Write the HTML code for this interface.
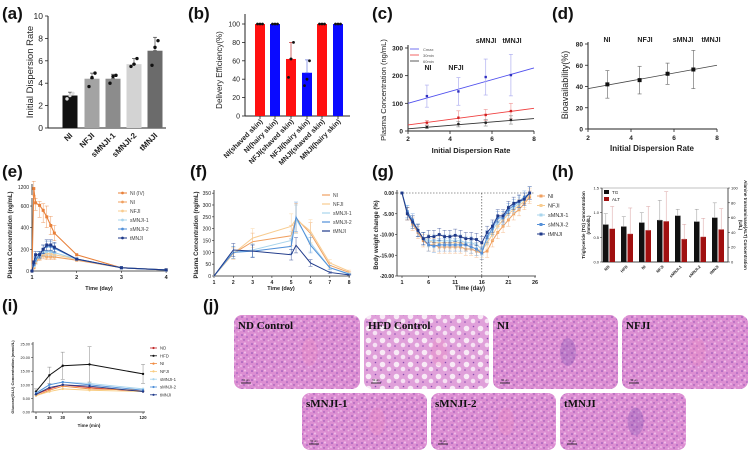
<!DOCTYPE html>
<html><head><meta charset="utf-8"><style>
html,body{margin:0;padding:0;background:#fff;}
svg{display:block;font-family:"Liberation Sans",Arial,sans-serif;}
</style></head><body>
<svg id="fig" width="750" height="451" viewBox="0 0 750 451" xmlns="http://www.w3.org/2000/svg">
<defs>
<pattern id="liver" width="10" height="9" patternUnits="userSpaceOnUse">
<rect width="10" height="9" fill="#dc8ed2"/>
<circle cx="2" cy="2" r="0.8" fill="#8a4cb0"/><circle cx="7" cy="4" r="0.8" fill="#9458bc"/>
<circle cx="4" cy="7" r="0.7" fill="#8a4cb0"/>
<circle cx="5" cy="1.5" r="1.1" fill="#eebce8"/><circle cx="1" cy="6" r="1" fill="#ecb6e6"/><circle cx="8.5" cy="7.5" r="0.9" fill="#eebce8"/>
</pattern>
<pattern id="fatty" width="14" height="12" patternUnits="userSpaceOnUse">
<rect width="14" height="12" fill="#e0a0da"/>
<circle cx="4.5" cy="4.5" r="2.8" fill="#f8eaf6"/><circle cx="11" cy="9" r="2.3" fill="#f6e2f4"/>
<circle cx="11.5" cy="2.5" r="0.8" fill="#8a4cb0"/><circle cx="3" cy="10" r="0.8" fill="#8a4cb0"/>
</pattern>
</defs>
</svg>
<script>
// ---------- data ----------
const aCats=['NI','NFJI','sMNJI-1','sMNJI-2','tMNJI'];
const aVals=[2.9,4.4,4.4,5.7,6.9];
const aErr=[0.3,0.5,0.4,0.5,1.2];
const aPts=[[2.6,2.9,3.1],[3.7,4.5,4.9],[4.0,4.6,4.7],[5.5,5.7,6.2],[5.6,7.2,7.8]];
const aTicks=[0,2,4,6,8,10];
const bCats=['NI(shaved skin)','NI(hairy skin)','NFJI(shaved skin)','NFJI(hairy skin)','MNJI(shaved skin)','MNJI(hairy skin)'];
const bVals=[100,100,62,47,100,100];
const bErr=[0,0,18,14,0,0];
const bPts=[[100,100,100],[100,100,100],[42,62,80],[33,40,60],[100,100,100],[100,100,100]];
const bTicks=[0,20,40,60,80,100];
const cX=[2.9,4.4,5.7,6.9];
const cCmax=[126,143,195,202];const cCmaxErr=[40,50,65,75];
const c30=[30,48,58,72];const c30Err=[8,25,20,28];
const c60=[14,25,30,40];const c60Err=[5,10,12,15];
const cFitCmax=[100,228];const cFit30=[22,82];const cFit60=[8,45];
const cYTicks=[0,100,200,300];const dispTicks=[2,4,6,8];
const dVals=[42,46,52,56];const dErr=[13,13,10,18];const dFit=[38,60];const dYTicks=[0,20,40,60,80];
const groupLabels=['NI','NFJI','sMNJI','tMNJI'];
const eT=[1,1.04,1.08,1.17,1.25,1.33,1.42,1.5,2,3,4];
const eNames=['NI (IV)','NI','NFJI','sMNJI-1','sMNJI-2','tMNJI'];
const eNIIV=[0,1150,700,620,560,500,420,350,150,30,10];
const eNI=[0,30,80,120,140,130,130,130,100,30,10];
const eNFJI=[0,40,90,130,160,160,160,150,110,30,10];
const eS1=[0,50,100,140,170,180,180,170,110,30,10];
const eS2=[0,60,110,150,200,230,230,210,110,30,10];
const eTM=[0,80,150,150,200,240,240,220,110,30,10];
const eYTicks=[0,200,400,600];const eXTicks=[1,2,3,4];
const fT=[1,2,3,5,5.25,6,7,8];
const fNames=['NI','NFJI','sMNJI-1','sMNJI-2','tMNJI'];
const fNI=[0,95,145,170,245,180,45,15];
const fNFJI=[0,95,160,210,240,190,55,20];
const fS1=[0,100,110,150,240,140,35,10];
const fS2=[0,100,105,125,250,130,35,8];
const fTM=[0,110,105,90,130,55,15,5];
const fYTicks=[0,50,100,150,200,250,300,350];const fXTicks=[1,2,3,4,5,6,7,8];
const gDays=[1,2,3,4,5,6,7,8,9,10,11,12,13,14,15,16,17,18,19,20,21,22,23,24,25];
const gNI=[0,-5,-7.5,-9.5,-11.5,-12.5,-12.5,-13,-13,-13,-13,-13,-13.5,-13.5,-14,-14.5,-14,-11.5,-9.5,-8,-6.5,-5,-4,-2.5,-1];
const gNFJI=[0,-5,-7,-9,-11,-11.5,-12,-12,-12,-12,-12,-12,-12.5,-13,-13.5,-14,-12,-10,-8,-6.5,-5,-4,-3,-2,-0.5];
const gS1=[0,-4.5,-7,-9,-11,-11.5,-11.5,-11.5,-11.5,-11.5,-11.5,-11.5,-12,-12,-12.5,-13.5,-11,-9,-7,-6,-4.5,-3.5,-2.5,-1.5,0];
const gS2=[0,-4.5,-6.5,-9,-11,-12.5,-12.8,-12.5,-12.5,-12.5,-12.5,-12.5,-12.5,-13,-13.5,-14.5,-10.5,-8.5,-6,-6,-4,-3,-2,-1,0];
const gTM=[0,-5,-7,-9,-11,-10.5,-10.5,-10,-10.5,-10.5,-10.2,-10.5,-11,-11,-11.2,-12,-9.5,-8,-5.5,-5.5,-3.5,-2.5,-2,-1.5,0];
const gYTicks=[0,-5,-10,-15,-20];const gXTicks=[1,6,11,16,21,26];
const hCats=['ND','HFD','NI','NFJI','sMNJI-1','sMNJI-2','tMNJI'];
const hTG=[0.76,0.72,0.80,0.85,0.94,0.82,0.90];const hTGErr=[0.22,0.2,0.2,0.4,0.13,0.25,0.3];
const hALT=[45,38,43,55,31,34,44];const hALTErr=[30,35,32,40,20,25,28];
const hLTicks=[0,0.5,1.0,1.5];const hRTicks=[0,20,40,60,80,100];
const iT=[0,15,30,60,120];
const iNames=['ND','HFD','NI','NFJI','sMNJI-1','sMNJI-2','tMNJI'];
const iND=[6.5,8.5,10,9,7.5];const iHFD=[7.5,13.5,17,17.5,14];const iNI=[6,8,9.5,8.5,8];
const iNFJI=[6,7.5,8.5,8,7.5];const iS1=[6.5,10,11,10.5,8.5];const iS2=[7,10,11,10,8];const iTM=[6.5,9,10,9.5,7.5];
const iHFDErr=[1,3,5,6.5,3.5];
const iYTicks=[0,5,10,15,20,25];
const jNames=['ND Control','HFD Control','NI','NFJI','sMNJI-1','sMNJI-2','tMNJI'];

// ---------- helpers ----------
const S=document.getElementById('fig');const NS='http://www.w3.org/2000/svg';
function mk(tag,attrs,name){const el=document.createElementNS(NS,tag);for(const k in attrs)el.setAttribute(k,attrs[k]);


S.appendChild(el);return el;}
function L(x1,y1,x2,y2,c,w,name,dash){const a={x1,y1,x2,y2,stroke:c,'stroke-width':w};if(dash)a['stroke-dasharray']=dash;return mk('line',a,name);}
function T(x,y,s,size,name,o){o=o||{};const a={x,y,'font-size':size,fill:o.fill||'#222','text-anchor':o.anchor||'start'};
if(o.bold)a['font-weight']='bold';if(o.rot!==undefined)a.transform=`rotate(${o.rot} ${x} ${y})`;if(o.family)a['font-family']=o.family;
const t=mk('text',a,name);t.textContent=s;return t;}
function P(pts,c,w,name){return mk('polyline',{points:pts.map(p=>p.join(',')).join(' '),fill:'none',stroke:c,'stroke-width':w},name);}
function err(x,y1,y2,c,w,name){L(x,y1,x,y2,c,w||0.6,name);L(x-2,y1,x+2,y1,c,w||0.6,name+'-cap');L(x-2,y2,x+2,y2,c,w||0.6,name+'-cap');}

// panel labels
[['(a)',2,19],['(b)',188,19],['(c)',372,19],['(d)',552,19],['(e)',2,177],['(f)',190,177],['(g)',372,177],['(h)',552,177],['(i)',2,311],['(j)',203,311]].forEach(p=>T(p[1],p[2],p[0],17,'panel-label-'+p[0].replace(/[()]/g,''),{bold:true,fill:'#111'}));

// ---------- (a) ----------
{const ya=v=>128-v*11.2;const cx=[70,92,113,134,155];const cols=['#111','#a3a3a3','#8c8c8c','#d3d3d3','#6b6b6b'];
L(48,ya(10),48,128,'#222',1,'a-y-axis');L(48,128,166,128,'#222',1,'a-x-axis');
aTicks.forEach(t=>{L(45,ya(t),48,ya(t),'#222',0.8,'a-y-tick');T(43,ya(t)+3,String(t),8.5,'a-y-tick-label',{anchor:'end'});});
aVals.forEach((v,i)=>{mk('rect',{x:cx[i]-7.5,y:ya(v),width:15,height:128-ya(v),fill:cols[i]},'a-bar-'+aCats[i]);
err(cx[i],ya(v),ya(v+aErr[i]),'#444',0.7,'a-error-bar');
aPts[i].forEach((p,k)=>mk('circle',{cx:cx[i]+(k-1)*3,cy:ya(p),r:1.7,fill:i==0?'#ddd':'#111'},'a-point'));
T(cx[i]+3,136,aCats[i],8,'a-x-label',{anchor:'end',rot:-45,bold:true});});
T(33,72,'Initial Dispersion Rate',9.5,'a-y-axis-title',{anchor:'middle',rot:-90});}

// ---------- (b) ----------
{const yb=v=>116-v*0.92;const cx=[260,275,291,307,322,338];
L(245,14,245,116,'#222',1,'b-y-axis');L(245,116,350,116,'#222',1,'b-x-axis');
bTicks.forEach(t=>{L(242,yb(t),245,yb(t),'#222',0.8,'b-y-tick');T(240,yb(t)+2.5,String(t),7,'b-y-tick-label',{anchor:'end'});});
bVals.forEach((v,i)=>{const c=i%2?'#0a0aff':'#ff1010';mk('rect',{x:cx[i]-5,y:yb(v),width:10,height:116-yb(v),fill:c},'b-bar');
if(bErr[i])err(cx[i],yb(v),yb(v+bErr[i]),i%2?'#6a7ae0':'#c03030',0.7,'b-error-bar');
bPts[i].forEach((p,k)=>mk('circle',{cx:cx[i]+(k-1)*2.5,cy:yb(p),r:1.4,fill:'#111'},'b-point'));
L(cx[i],116,cx[i],119,'#222',0.8,'b-x-tick');
T(cx[i]+3,122,bCats[i],7,'b-x-label',{anchor:'end',rot:-45,bold:true});});
T(222,70,'Delivery Efficiency(%)',8,'b-y-axis-title',{anchor:'middle',rot:-90});}

// ---------- (c) ----------
{const xc=v=>408+(v-2)*21;const yc=v=>131-v*0.2767;
L(408,45,408,131,'#222',1,'c-y-axis');L(408,131,534,131,'#222',1,'c-x-axis');
cYTicks.forEach(t=>{L(405,yc(t),408,yc(t),'#222',0.8,'c-y-tick');T(403,yc(t)+2.5,String(t),6.5,'c-y-tick-label',{anchor:'end',bold:true});});
dispTicks.forEach(t=>{L(xc(t),131,xc(t),134,'#222',0.8,'c-x-tick');T(xc(t),141,String(t),6.5,'c-x-tick-label',{anchor:'middle',bold:true});});
[[cFitCmax,'#5050ee',cCmax,cCmaxErr,'#3030c0','#b0b0f0'],[cFit30,'#f04040',c30,c30Err,'#d02020','#f0a0a0'],[cFit60,'#333',c60,c60Err,'#222','#999']].forEach((s,si)=>{
L(xc(2),yc(s[0][0]),xc(8),yc(s[0][1]),s[1],0.9,'c-fit-line');
s[2].forEach((v,i)=>{err(xc(cX[i]),yc(v-s[3][i]),yc(v+s[3][i]),s[5],0.7,'c-error-bar');mk('rect',{x:xc(cX[i])-1.2,y:yc(v)-1.2,width:2.4,height:2.4,fill:s[4]},'c-point');});});
[['Cmax','#5050ee'],['30min','#f04040'],['60min','#333']].forEach((l,i)=>{L(410,49+i*6,419,49+i*6,l[1],0.8,'c-legend-line');T(423,51+i*6,l[0],4,'c-legend-text',{fill:'#555'});});
[[428,70],[456,70],[486,43],[512,43]].forEach((p,i)=>T(p[0],p[1],groupLabels[i],7,'c-group-label',{anchor:'middle',bold:true}));
T(471,153,'Initial Dispersion Rate',7.5,'c-x-axis-title',{anchor:'middle',bold:true});
T(386,90,'Plasma Concentration (ng/mL)',7.5,'c-y-axis-title',{anchor:'middle',rot:-90});}

// ---------- (d) ----------
{const xd=v=>588+(v-2)*21.5;const yd=v=>129-v*1.0625;
L(588,42,588,129,'#222',1,'d-y-axis');L(588,129,717,129,'#222',1,'d-x-axis');
dYTicks.forEach(t=>{L(585,yd(t),588,yd(t),'#222',0.8,'d-y-tick');T(583,yd(t)+2.5,String(t),6.5,'d-y-tick-label',{anchor:'end',bold:true});});
dispTicks.forEach(t=>{L(xd(t),129,xd(t),132,'#222',0.8,'d-x-tick');T(xd(t),140,String(t),6.5,'d-x-tick-label',{anchor:'middle',bold:true});});
L(xd(2),yd(dFit[0]),xd(8),yd(dFit[1]),'#444',0.8,'d-fit-line');
dVals.forEach((v,i)=>{err(xd(cX[i]),yd(v-dErr[i]),yd(v+dErr[i]),'#777',0.7,'d-error-bar');mk('rect',{x:xd(cX[i])-2,y:yd(v)-2,width:4,height:4,fill:'#111'},'d-point');});
[607,645,683,711].forEach((x,i)=>T(x,42,groupLabels[i],7,'d-group-label',{anchor:'middle',bold:true}));
T(652,151,'Initial Dispersion Rate',8,'d-x-axis-title',{anchor:'middle',bold:true});
T(568,85,'Bioavailability(%)',9,'d-y-axis-title',{anchor:'middle',rot:-90});}

// ---------- (e) ----------
{const xe=v=>32+(v-1)*44.7;const ye=v=>v<=600?271-v*0.1083:206-(v-600)*0.0317;
L(32,184,32,271,'#222',0.8,'e-y-axis');L(32,271,168,271,'#222',0.8,'e-x-axis');
mk('rect',{x:29,y:195,width:6,height:3,fill:'#fff'},'e-axis-break');
eYTicks.forEach(t=>{L(30,ye(t),32,ye(t),'#222',0.6,'e-y-tick');T(29,ye(t)+2,String(t),5,'e-y-tick-label',{anchor:'end'});});
T(29,189,'1200',5,'e-y-tick-label',{anchor:'end'});
eXTicks.forEach(t=>{L(xe(t),271,xe(t),273,'#222',0.6,'e-x-tick');T(xe(t),279,String(t),5.5,'e-x-tick-label',{anchor:'middle',bold:true});});
const cols=['#e8803a','#f0a060','#f8cc90','#a8d4ec','#4f8fd8','#1f3a8a'];
[eNIIV,eNI,eNFJI,eS1,eS2,eTM].forEach((s,si)=>{P(eT.map((t,i)=>[xe(t),ye(s[i])]),cols[si],1.1,'e-line-'+eNames[si]);
s.forEach((v,i)=>{if(i>0&&i<8)err(xe(eT[i]),ye(v*0.8),ye(v*1.2),cols[si],0.4,'e-error-bar');mk('rect',{x:xe(eT[i])-1.5,y:ye(v)-1.5,width:3,height:3,fill:cols[si]},'e-point');});});
eNames.forEach((n,i)=>{const y=193+i*9;L(118,y,127,y,cols[i],1,'e-legend-line');mk('circle',{cx:122.5,cy:y,r:1.4,fill:cols[i]},'e-legend-marker');T(130,y+2,n,5,'e-legend-text',{fill:'#444'});});
T(99,290,'Time (day)',5.5,'e-x-axis-title',{anchor:'middle',bold:true});
T(12,235,'Plasma Concentration (ng/mL)',6,'e-y-axis-title',{anchor:'middle',rot:-90,bold:true});}

// ---------- (f) ----------
{const xf=v=>214+(v-1)*19.3;const yf=v=>276-v*0.2367;
L(214,190,214,276,'#222',0.8,'f-y-axis');L(214,276,350,276,'#222',0.8,'f-x-axis');
fYTicks.forEach(t=>{L(212,yf(t),214,yf(t),'#222',0.6,'f-y-tick');T(211,yf(t)+2,String(t),5,'f-y-tick-label',{anchor:'end'});});
fXTicks.forEach(t=>{L(xf(t),276,xf(t),278,'#222',0.6,'f-x-tick');T(xf(t),284,String(t),5,'f-x-tick-label',{anchor:'middle',bold:true});});
const cols=['#f0a060','#f8cc90','#a8d4ec','#4f8fd8','#1f3a8a'];
[fNI,fNFJI,fS1,fS2,fTM].forEach((s,si)=>{P(fT.map((t,i)=>[xf(t),yf(s[i])]),cols[si],1,'f-line-'+fNames[si]);
s.forEach((v,i)=>{if(i>0)err(xf(fT[i]),yf(v*0.75),yf(v*1.25),cols[si],0.4,'f-error-bar');});});
fNames.forEach((n,i)=>{const y=195+i*9;L(322,y,330,y,cols[i],1.2,'f-legend-line');T(333,y+2,n,5,'f-legend-text',{fill:'#444'});});
T(281,290,'Time (day)',5.5,'f-x-axis-title',{anchor:'middle',bold:true});
T(198,235,'Plasma Concentration (ng/mL)',6,'f-y-axis-title',{anchor:'middle',rot:-90,bold:true});}

// ---------- (g) ----------
{const xg=d=>402+(d-1)*5.32;const yg=v=>193-v*4.15;
L(397,190,397,276,'#222',0.8,'g-y-axis');L(397,276,536,276,'#222',0.8,'g-x-axis');
L(397,193,535,193,'#333',0.6,'g-zero-line','1.5,1.5');L(xg(16),193,xg(16),276,'#333',0.6,'g-day16-line','1.5,1.5');
gYTicks.forEach(t=>{L(395,yg(t),397,yg(t),'#222',0.6,'g-y-tick');T(394,yg(t)+2,(t===0?'0':t)+'.00',5,'g-y-tick-label',{anchor:'end',bold:true});});
gXTicks.forEach(t=>{L(xg(t),276,xg(t),278,'#222',0.6,'g-x-tick');T(xg(t),284,String(t),5.5,'g-x-tick-label',{anchor:'middle',bold:true});});
const cols=['#f0a060','#f8cc90','#a8d4ec','#5590d8','#1f3a8a'];
[gNI,gNFJI,gS1,gS2,gTM].forEach((s,si)=>{P(gDays.map((d,i)=>[xg(d),yg(s[i])]),cols[si],1,'g-line-'+fNames[si]);
s.forEach((v,i)=>{if(i>0)err(xg(gDays[i]),yg(v-1.5),yg(v+1.5),cols[si],0.35,'g-error-bar');mk('rect',{x:xg(gDays[i])-1.4,y:yg(v)-1.4,width:2.8,height:2.8,fill:cols[si]},'g-point');});});
fNames.forEach((n,i)=>{const y=196+i*9.5;L(537,y,545,y,cols[i],1,'g-legend-line');mk('rect',{x:539.5,y:y-1.5,width:3,height:3,fill:cols[i]},'g-legend-marker');T(548,y+2,n,5.5,'g-legend-text',{fill:'#333'});});
T(470,290,'Time (day)',6,'g-x-axis-title',{anchor:'middle',bold:true});
T(378,235,'Body weight change (%)',6,'g-y-axis-title',{anchor:'middle',rot:-90,bold:true});}

// ---------- (h) ----------
{const yl=v=>262-v*49.3;const yr=v=>262-v*0.74;const cx=[609,627,645,663,681,700,718];
mk('rect',{x:602,y:188,width:126,height:74,fill:'none',stroke:'#999','stroke-width':0.6},'h-plot-frame');
L(602,188,602,262,'#222',0.7,'h-left-axis');L(728,188,728,262,'#222',0.7,'h-right-axis');L(602,262,728,262,'#222',0.7,'h-x-axis');
hLTicks.forEach(t=>{L(600,yl(t),602,yl(t),'#222',0.5,'h-left-tick');T(599,yl(t)+1.5,t.toFixed(1),4,'h-left-tick-label',{anchor:'end'});});
hRTicks.forEach(t=>{L(728,yr(t),730,yr(t),'#222',0.5,'h-right-tick');T(731,yr(t)+1.5,String(t),4,'h-right-tick-label');});
hCats.forEach((c,i)=>{mk('rect',{x:cx[i]-6,y:yl(hTG[i]),width:5.5,height:262-yl(hTG[i]),fill:'#111'},'h-bar-tg');
err(cx[i]-3.2,yl(hTG[i]),yl(hTG[i]+hTGErr[i]),'#999',0.5,'h-error-tg');
mk('rect',{x:cx[i]+0.5,y:yr(hALT[i]),width:5.5,height:262-yr(hALT[i]),fill:'#a01010'},'h-bar-alt');
err(cx[i]+3.2,yr(hALT[i]),yr(hALT[i]+hALTErr[i]),'#d8a0a0',0.5,'h-error-alt');
T(cx[i]+1,267,c,4,'h-x-label',{anchor:'end',rot:-45,bold:true});});
mk('rect',{x:604,y:190,width:5,height:4,fill:'#111'},'h-legend-tg-swatch');T(612,194,'TG',4.5,'h-legend-tg');
mk('rect',{x:604,y:197,width:5,height:4,fill:'#a01010'},'h-legend-alt-swatch');T(612,201,'ALT',4.5,'h-legend-alt');
T(585,225,'Triglyceride (TG) Concentration',4.5,'h-left-axis-title',{anchor:'middle',rot:-90,bold:true});
T(590,225,'(mmol/L)',4.5,'h-left-axis-title-unit',{anchor:'middle',rot:-90,bold:true});
T(744,225,'Alanine transaminase(ALT) Concentration',4.5,'h-right-axis-title',{anchor:'middle',rot:90,bold:true});
T(739,225,'(U/L)',4.5,'h-right-axis-title-unit',{anchor:'middle',rot:90,bold:true});}

// ---------- (i) ----------
{const xi=t=>36+t*0.892;const yi=v=>412-v*2.72;
L(33,342,33,412,'#222',0.7,'i-y-axis');L(33,412,145,412,'#222',0.7,'i-x-axis');
iYTicks.forEach(t=>{L(31,yi(t),33,yi(t),'#222',0.5,'i-y-tick');T(30,yi(t)+1.5,t.toFixed(2),3.8,'i-y-tick-label',{anchor:'end'});});
iT.forEach(t=>{L(xi(t),412,xi(t),414,'#222',0.5,'i-x-tick');T(xi(t),419,String(t),4.2,'i-x-tick-label',{anchor:'middle',bold:true});});
const cols=['#c0282a','#111','#f08a40','#f8cc80','#a8d4ec','#4f8fd8','#1f3a8a'];
iHFD.forEach((v,i)=>err(xi(iT[i]),yi(v-iHFDErr[i]),yi(v+iHFDErr[i]),'#888',0.5,'i-error-hfd'));
[iND,iHFD,iNI,iNFJI,iS1,iS2,iTM].forEach((s,si)=>{P(iT.map((t,i)=>[xi(t),yi(s[i])]),cols[si],si==1?1:0.9,'i-line-'+iNames[si]);
s.forEach((v,i)=>mk('circle',{cx:xi(iT[i]),cy:yi(v),r:1.2,fill:cols[si]},'i-point'));});
iNames.forEach((n,i)=>{const y=348+i*7.8;L(150,y,157,y,cols[i],0.8,'i-legend-line');mk('circle',{cx:153.5,cy:y,r:1.1,fill:cols[i]},'i-legend-marker');T(160,y+1.6,n,4.3,'i-legend-text',{fill:'#333'});});
T(89,427,'Time (min)',4.5,'i-x-axis-title',{anchor:'middle',bold:true});
T(14,377,'Glucose(GLU) Concentration (mmol/L)',4,'i-y-axis-title',{anchor:'middle',rot:-90,bold:true});}

// ---------- (j) ----------
{const tiles=[[234,315,126,74],[364,315,125,74],[493,315,125,74],[622,315,126,74],[302,393,125,57],[431,393,125,57],[560,393,126,57]];
tiles.forEach((t,i)=>{mk('rect',{x:t[0],y:t[1],width:t[2],height:t[3],rx:8,fill:i==1?'url(#fatty)':'url(#liver)'},'histology-'+jNames[i].toLowerCase().replace(' ','-'));
mk('ellipse',{cx:t[0]+t[2]*0.6,cy:t[1]+t[3]*0.5,rx:8,ry:14,fill:i==2||i==6?'#7c4cb0':'#ee8cc0',opacity:0.3},'histology-vessel');
T(t[0]+4,t[1]+14,jNames[i],11,'histology-label',{bold:true,fill:'#111',family:'"Liberation Serif",serif'});
L(t[0]+7,t[1]+t[3]-6,t[0]+17,t[1]+t[3]-6,'#111',0.8,'scale-bar');T(t[0]+12,t[1]+t[3]-8,'50 μm',2.5,'scale-bar-label',{anchor:'middle',fill:'#111'});});}
</script>
</body></html>
